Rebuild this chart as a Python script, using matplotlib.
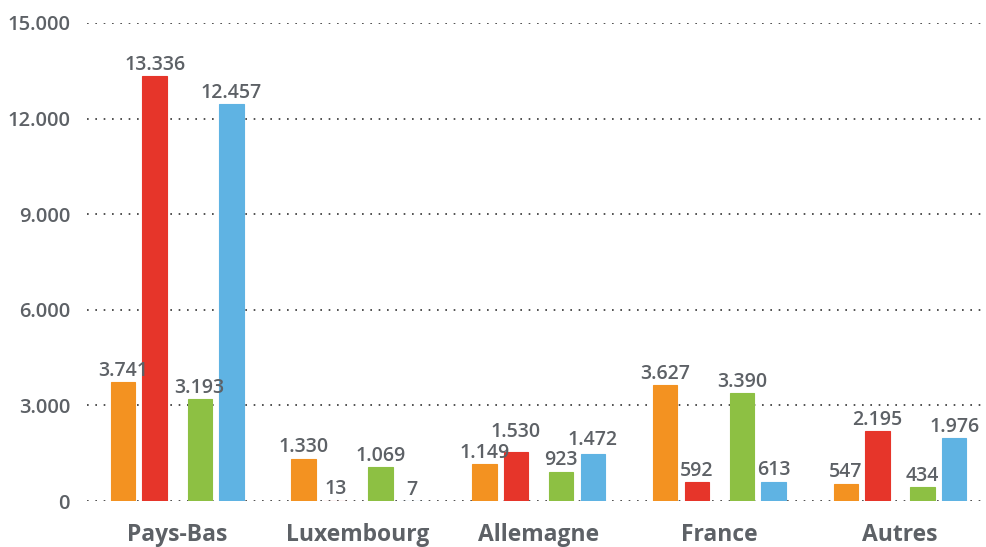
import matplotlib.pyplot as plt
import numpy as np

categories = ['Pays-Bas', 'Luxembourg', 'Allemagne', 'France', 'Autres']
serie_orange = [3741, 1330, 1149, 3627, 547]
serie_rouge = [13336, 13, 1530, 592, 2195]
serie_vert = [3193, 1069, 923, 3390, 434]
serie_bleu = [12457, 7, 1472, 613, 1976]
yticks = [0, 3000, 6000, 9000, 12000, 15000]
ytick_labels = ['0', '3.000', '6.000', '9.000', '12.000', '15.000']

series = [serie_orange, serie_rouge, serie_vert, serie_bleu]
colors = ['#F39221', '#E6352A', '#8DC043', '#5FB3E3']
offsets = [-0.30, -0.125, 0.125, 0.30]
width = 0.135
grey = '#5d6166'
pad = 40          # gap between bar top and its label (data units)
min_sep = 650     # minimum vertical separation of neighbouring labels

plt.rcParams['font.family'] = ['Open Sans', 'DejaVu Sans']

fig = plt.figure(figsize=(9.86, 5.47), dpi=100)
ax = fig.add_axes([0.088, 0.084, 0.911, 0.874])

x = np.arange(len(categories))
for vals, col, off in zip(series, colors, offsets):
    ax.bar(x + off, vals, width, color=col, edgecolor=col, linewidth=0.8, zorder=3)

# label positions, nudging the taller label up when neighbours would collide
label_y = [[v + pad for v in vals] for vals in series]
for i in range(len(categories)):
    for a, b in [(0, 1), (2, 3)]:
        va_, vb_ = series[a][i], series[b][i]
        if abs(va_ - vb_) < min_sep:
            hi, lo = (a, b) if va_ > vb_ else (b, a)
            label_y[hi][i] = series[lo][i] + pad + min_sep

for s_idx, (vals, off) in enumerate(zip(series, offsets)):
    for i, v in enumerate(vals):
        lab = f'{v:,}'.replace(',', '.')
        ax.text(x[i] + off, label_y[s_idx][i], lab, ha='center', va='bottom',
                fontsize=14, color=grey, fontweight='semibold', zorder=4)

ax.set_ylim(0, 15000)
ax.set_xlim(-0.5, 4.47)
ax.set_yticks(yticks)
ax.set_yticklabels(ytick_labels, fontsize=14.5, color=grey, fontweight='semibold')
ax.set_xticks(x)
ax.set_xticklabels(categories, fontsize=16.5, color=grey, fontweight='bold')
ax.tick_params(axis='y', length=0, pad=12)
ax.tick_params(axis='x', length=0, pad=16)
for s in ax.spines.values():
    s.set_visible(False)
ax.grid(True, axis='y', color='#333333', linestyle=(0, (1, 4)), linewidth=1.2, zorder=0)

fig.savefig('out.png', dpi=100)
